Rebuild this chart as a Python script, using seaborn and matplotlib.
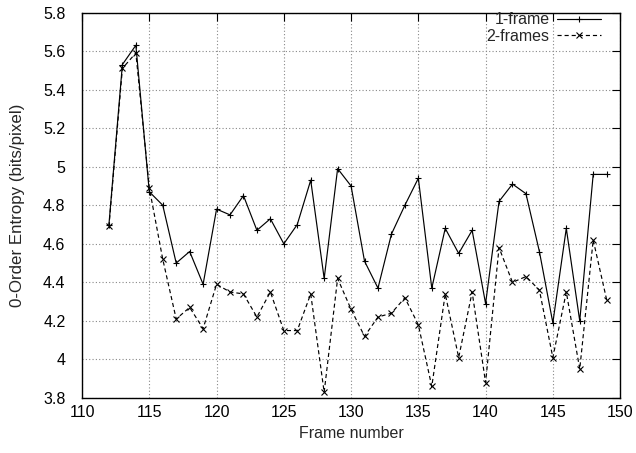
import matplotlib
matplotlib.use("Agg")
import matplotlib.pyplot as plt
import seaborn as sns
import pandas as pd

frames = list(range(112, 150))
one_frame = [4.70, 5.53, 5.63, 4.87, 4.80, 4.50, 4.56, 4.39, 4.78, 4.75, 4.85, 4.67,
             4.73, 4.60, 4.70, 4.93, 4.42, 4.99, 4.90, 4.51, 4.37, 4.65, 4.80, 4.94,
             4.37, 4.68, 4.55, 4.67, 4.29, 4.82, 4.91, 4.86, 4.56, 4.19, 4.68, 4.20,
             4.96, 4.96]
two_frames = [4.69, 5.51, 5.59, 4.89, 4.52, 4.21, 4.27, 4.16, 4.39, 4.35, 4.34, 4.22,
              4.35, 4.15, 4.15, 4.34, 3.83, 4.42, 4.26, 4.12, 4.22, 4.24, 4.32, 4.18,
              3.86, 4.34, 4.01, 4.35, 3.88, 4.58, 4.40, 4.43, 4.36, 4.01, 4.35, 3.95,
              4.62, 4.31]
series_names = ["1-frame", "2-frames"]

df = pd.DataFrame({"frame": frames, "one": one_frame, "two": two_frames})

sns.set_style("white")
plt.rcParams['font.family'] = ['Liberation Sans', 'DejaVu Sans']
plt.rcParams['font.size'] = 11.5

fig = plt.figure(figsize=(6.36, 4.53), dpi=100)
ax = fig.add_axes([0.129, 0.1214, 0.846, 0.851])

sns.lineplot(data=df, x="frame", y="one", ax=ax, color="black", linewidth=0.85,
             marker="+", markersize=5, markeredgewidth=0.8, markeredgecolor="black",
             label=series_names[0])
sns.lineplot(data=df, x="frame", y="two", ax=ax, color="black", linewidth=0.85,
             linestyle=(0, (3.5, 2.5)), marker="x", markersize=4, markeredgewidth=0.8,
             markeredgecolor="black", label=series_names[1])

ax.set_xlim(110, 150)
ax.set_ylim(3.8, 5.8)
ax.set_xticks(range(110, 151, 5))
ax.set_yticks([3.8, 4.0, 4.2, 4.4, 4.6, 4.8, 5.0, 5.2, 5.4, 5.6, 5.8])
ax.set_yticklabels(["3.8", "4", "4.2", "4.4", "4.6", "4.8", "5", "5.2", "5.4", "5.6", "5.8"])
ax.tick_params(direction="in", length=6, width=0.8, top=True, right=True,
               labelsize=11.5, colors="black")
ax.tick_params(axis="x", pad=5)
ax.tick_params(axis="y", pad=12)
ax.grid(True, linestyle=(0, (1, 2)), color="#888888", linewidth=0.8)
for s in ax.spines.values():
    s.set_color("black")
    s.set_linewidth(1.0)

ax.set_xlabel("Frame number", fontsize=11.5, labelpad=4)
ax.set_ylabel("0-Order Entropy (bits/pixel)", fontsize=12.2, labelpad=13)

leg = ax.legend(loc="upper right", bbox_to_anchor=(0.974, 1.013), frameon=False,
                markerfirst=False, numpoints=1, handlelength=2.8, borderaxespad=0,
                borderpad=0.3, labelspacing=0.1, fontsize=11.5, handletextpad=0.45)
for t in leg.get_texts():
    t.set_ha("right")

fig.savefig("out.png", dpi=100)
